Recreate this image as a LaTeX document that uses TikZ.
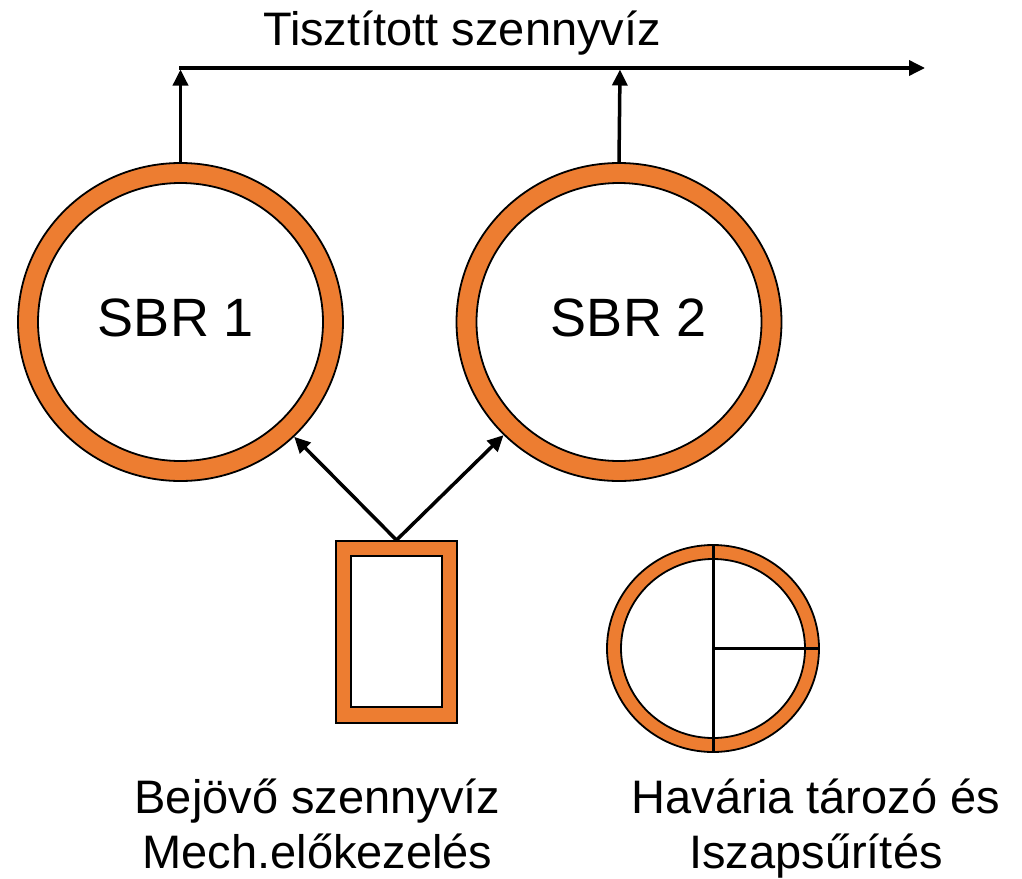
\documentclass[tikz,border=0pt]{standalone}
\usepackage{fontspec}
\setmainfont{Liberation Sans}
\usetikzlibrary{arrows.meta,shapes.geometric}
\definecolor{orng}{HTML}{ED7D31}
\begin{document}
\begin{tikzpicture}[x=1pt,y=-1pt,
  ring/.style={ellipse, draw=black, line width=1.8pt, fill=orng, inner sep=0pt},
  hole/.style={ellipse, draw=black, line width=1.8pt, fill=white, inner sep=0pt},
  flow/.style={line width=3.5pt, -{Triangle[length=16pt,width=15pt]}},
  bigtxt/.style={font=\fontsize{54}{60}\selectfont, inner sep=0pt, anchor=base},
  lbl/.style={font=\fontsize{47}{55}\selectfont, inner sep=0pt, anchor=base}]
\useasboundingbox[fill=white] (0,0) rectangle (1022,878);
% SBR 1
\node[ring, minimum width=325pt, minimum height=318pt] (sbr1) at (180.5,322) {};
\node[hole, minimum width=285pt, minimum height=278pt] (sbr1in) at (180.5,322) {};
\node[bigtxt] (t1) at (176,336) {SBR 1};
% SBR 2
\node[ring, minimum width=325pt, minimum height=318pt] (sbr2) at (619,322) {};
\node[hole, minimum width=285pt, minimum height=278pt] (sbr2in) at (619,322) {};
\node[bigtxt] (t2) at (629,336) {SBR 2};
% inlet box
\node[draw=black, line width=1.8pt, fill=orng, minimum width=121pt, minimum height=182pt, inner sep=0pt] (box) at (396.5,632) {};
\node[draw=black, line width=1.8pt, fill=white, minimum width=91pt, minimum height=151pt, inner sep=0pt] (boxin) at (396.5,631.5) {};
% Havaria
\node[ring, minimum width=212pt, minimum height=207pt] (hav) at (713,648.5) {};
\node[hole, minimum width=184pt, minimum height=179pt] (havin) at (713,648.5) {};
\draw[line width=3pt] (hav.north) -- (hav.south);
\draw[line width=3pt] (hav.center) -- (hav.east);
% outlet
\coordinate (h1) at (180.5,69.5);
\coordinate (h2) at (620,69.5);
\coordinate (hs) at (179,68);
\coordinate (he) at (925,68);
\draw[flow] (sbr1.north) -- (h1);
\draw[flow] (sbr2.north) -- (h2);
\draw[flow] (hs) -- (he);
\node[lbl] (top) at (462,45) {Tisztított szennyvíz};
% inlet arrows
\draw[flow] (box.north) -- (sbr1);
\draw[flow] (box.north) -- (sbr2);
% labels
\node[lbl] (l1a) at (317.5,813) {Bejövő szennyvíz};
\node[lbl] (l1b) at (317.5,868) {Mech.előkezelés};
\node[lbl] (l2a) at (816,813) {Havária tározó és};
\node[lbl] (l2b) at (816,868) {Iszapsűrítés};
\end{tikzpicture}
\end{document}
